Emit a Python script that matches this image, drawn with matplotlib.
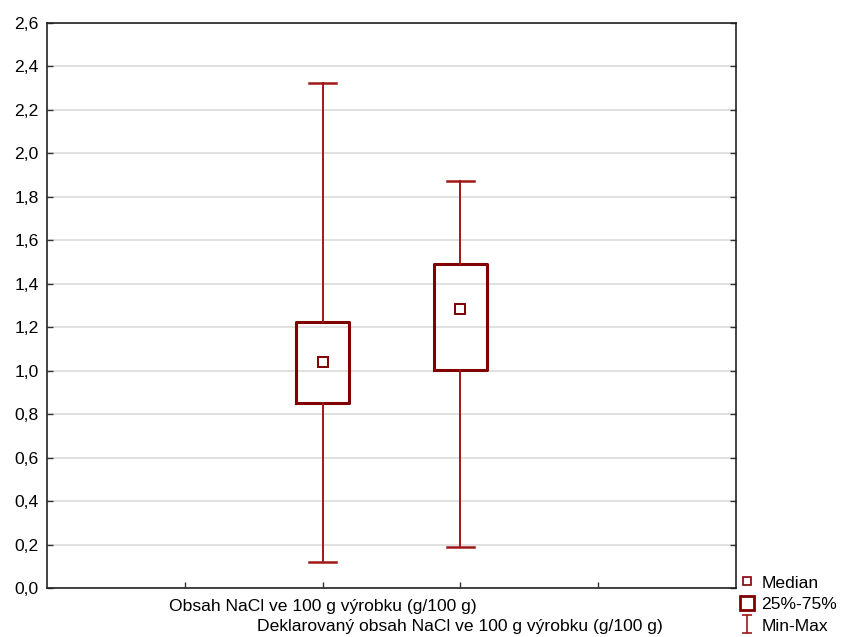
import matplotlib
matplotlib.use("Agg")
import matplotlib.pyplot as plt
from matplotlib.lines import Line2D
from matplotlib.path import Path
from matplotlib.ticker import FuncFormatter

plt.rcParams['font.family'] = ['Liberation Sans', 'DejaVu Sans']

labels = ["Obsah NaCl ve 100 g výrobku (g/100 g)",
          "Deklarovaný obsah NaCl ve 100 g výrobku (g/100 g)"]
positions = [2, 3]
minimum = [0.12, 0.19]
q1 = [0.852, 1.003]
median = [1.04, 1.284]
q3 = [1.222, 1.492]
maximum = [2.325, 1.875]

box_red = '#800000'
whisk_red = '#a01818'
fs = 12.6

fig = plt.figure(figsize=(8.42, 6.37), dpi=100)
ax = fig.add_axes([47 / 842, 1 - 588 / 637, 689 / 842, 565 / 637])

stats = []
for i in range(len(labels)):
    stats.append({'med': median[i], 'q1': q1[i], 'q3': q3[i],
                  'whislo': minimum[i], 'whishi': maximum[i], 'fliers': []})

ax.bxp(stats, positions=positions, widths=0.39, showfliers=False,
       boxprops=dict(color=box_red, linewidth=2.2),
       whiskerprops=dict(color=whisk_red, linewidth=1.4),
       capprops=dict(color=whisk_red, linewidth=1.8),
       medianprops=dict(linestyle='none'), capwidths=0.2, zorder=3)
ax.plot(positions, median, linestyle='none', marker='s', markersize=7,
        markerfacecolor='white', markeredgecolor=box_red, markeredgewidth=1.4,
        zorder=4)

ax.set_xlim(0, 5)
ax.set_ylim(0, 2.6)
ax.set_yticks([i * 0.2 for i in range(14)])
ax.yaxis.set_major_formatter(FuncFormatter(lambda v, p: f"{v:.1f}".replace('.', ',')))
ax.set_xticks([1, 2, 3, 4])
ax.set_xticklabels(['', '', '', ''])
ax.tick_params(axis='both', direction='in', length=4, width=1, labelsize=fs,
               right=True, color='#333333')
ax.tick_params(axis='y', pad=6)
ax.grid(axis='y', color='#dcdcdc', linewidth=1.2, zorder=0)
ax.set_axisbelow(True)
for s in ax.spines.values():
    s.set_linewidth(1.2)
    s.set_color('#222222')

# staggered category labels under the ticks
ax.text(2, -0.019, labels[0], transform=ax.get_xaxis_transform(),
        ha='center', va='top', fontsize=fs)
ax.text(3, -0.054, labels[1], transform=ax.get_xaxis_transform(),
        ha='center', va='top', fontsize=fs)

ibeam = Path([(-0.6, 1), (0.6, 1), (0, 1), (0, -1), (-0.6, -1), (0.6, -1)],
             [Path.MOVETO, Path.LINETO, Path.MOVETO, Path.LINETO,
              Path.MOVETO, Path.LINETO])
handles = [
    Line2D([], [], linestyle='none', marker='s', markersize=6,
           markerfacecolor='white', markeredgecolor=box_red, markeredgewidth=1.2),
    Line2D([], [], linestyle='none', marker='s', markersize=10,
           markerfacecolor='white', markeredgecolor=box_red, markeredgewidth=2),
    Line2D([], [], linestyle='none', marker=ibeam, markersize=13,
           markeredgecolor=whisk_red, markeredgewidth=1.2),
]
fig.legend(handles, ['Median', '25%-75%', 'Min-Max'], loc='upper left',
           bbox_to_anchor=(728 / 842, 1 - 563 / 637), frameon=False,
           fontsize=fs, handlelength=0.8, handletextpad=0.4,
           labelspacing=0.36, borderpad=0.2)

fig.savefig('out.png', dpi=100)
